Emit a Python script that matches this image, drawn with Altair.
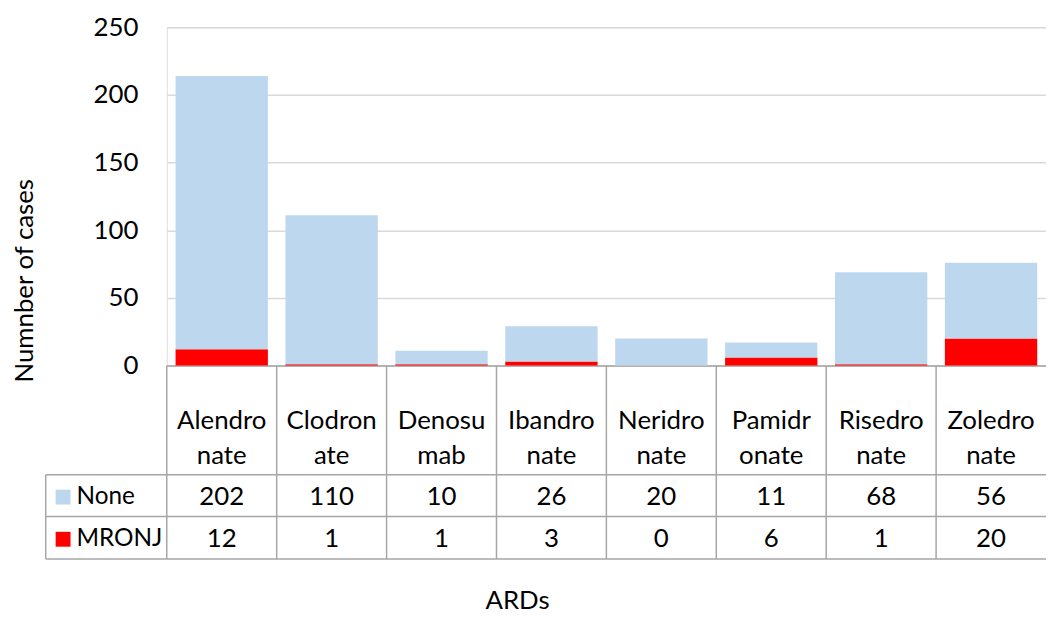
import altair as alt
import pandas as pd

# ---- data ----
categories = ["Alendronate", "Clodronate", "Denosumab", "Ibandronate",
              "Neridronate", "Pamidronate", "Risedronate", "Zoledronate"]
wrapped_labels = ["Alendro\nnate", "Clodron\nate", "Denosu\nmab", "Ibandro\nnate",
                  "Neridro\nnate", "Pamidr\nonate", "Risedro\nnate", "Zoledro\nnate"]
none_values = [202, 110, 10, 26, 20, 11, 68, 56]
mronj_values = [12, 1, 1, 3, 0, 6, 1, 20]
series_names = ["None", "MRONJ"]
y_ticks = [0, 50, 100, 150, 200, 250]

# ---- layout / style ----
W, H = 886, 341
FONT = "Lato"
FS = 26
TXT = "#000000"
GRID = "#D9D9D9"
BORDER = "#A6A6A6"
COLORS = ["#BDD7EE", "#FF0000"]

ROW_HEADER_Y = 397
ROW_LINE1 = 451
ROW_NONE_Y = 473.5
ROW_LINE2 = 493
ROW_MRONJ_Y = 516
ROW_LINE3 = 536
LEG_LEFT = -122

rows = []
for c, n, m in zip(categories, none_values, mronj_values):
    rows.append({"cat": c, "series": "MRONJ", "value": m, "ord": 0})
    rows.append({"cat": c, "series": "None", "value": n, "ord": 1})
bars_df = pd.DataFrame(rows)
table_df = pd.DataFrame({"cat": categories, "label": wrapped_labels,
                         "none": none_values, "mronj": mronj_values})

xenc = alt.X("cat:N", sort=categories,
             scale=alt.Scale(paddingInner=0, paddingOuter=0),
             axis=alt.Axis(labels=False, ticks=False, domain=True,
                           domainColor=BORDER, domainWidth=1.5, grid=False,
                           title="ARDs", titleFont=FONT, titleFontSize=FS,
                           titleFontWeight="normal", titleColor=TXT,
                           titleX=353, titleY=245, titleAlign="center",
                           titleBaseline="alphabetic"))

bars = alt.Chart(bars_df).mark_bar(width=alt.RelativeBandSize(0.84)).encode(
    x=xenc,
    y=alt.Y("value:Q", stack="zero",
            scale=alt.Scale(domain=[0, 250], nice=False),
            axis=alt.Axis(values=y_ticks, grid=True, gridColor=GRID, gridWidth=1.5,
                          ticks=False, tickSize=0, domain=False,
                          labelFont=FONT, labelFontSize=FS, labelColor=TXT,
                          labelPadding=29,
                          title="Numnber of cases", titleFont=FONT, titleFontSize=FS,
                          titleFontWeight="normal", titleColor=TXT,
                          titleX=-135, titleY=255, titleAngle=270,
                          titleAlign="center", titleBaseline="alphabetic")),
    color=alt.Color("series:N", scale=alt.Scale(domain=series_names, range=COLORS),
                    legend=None),
    order=alt.Order("ord:Q"),
)

base_t = alt.Chart(table_df)

vlines = base_t.mark_rule(color=BORDER, strokeWidth=1.5).encode(
    x=alt.X("cat:N", sort=categories, bandPosition=0),
    y=alt.value(H), y2=alt.value(ROW_LINE3),
)

def hline(y, x0):
    return alt.Chart(alt.Data(values=[{"a": 1}])).mark_rule(
        color=BORDER, strokeWidth=1.5).encode(
        x=alt.value(x0), x2=alt.value(W), y=alt.value(y))

left_border = alt.Chart(alt.Data(values=[{"a": 1}])).mark_rule(
    color=BORDER, strokeWidth=1.5).encode(
    x=alt.value(LEG_LEFT), y=alt.value(ROW_LINE1), y2=alt.value(ROW_LINE3))

header_text = base_t.mark_text(font=FONT, fontSize=FS, color=TXT, lineBreak="\n",
                               lineHeight=35, baseline="middle").encode(
    x=alt.X("cat:N", sort=categories), y=alt.value(ROW_HEADER_Y), text="label:N")

none_text = base_t.mark_text(font=FONT, fontSize=FS, color=TXT, baseline="middle").encode(
    x=alt.X("cat:N", sort=categories), y=alt.value(ROW_NONE_Y), text="none:Q")

mronj_text = base_t.mark_text(font=FONT, fontSize=FS, color=TXT, baseline="middle").encode(
    x=alt.X("cat:N", sort=categories), y=alt.value(ROW_MRONJ_Y), text="mronj:Q")

legend_layers = []
for name, col, yc in zip(series_names, COLORS, [ROW_NONE_Y, ROW_MRONJ_Y]):
    d = alt.Data(values=[{"name": name}])
    legend_layers.append(alt.Chart(d).mark_rect(color=col).encode(
        x=alt.value(LEG_LEFT + 10), x2=alt.value(LEG_LEFT + 25),
        y=alt.value(yc - 7.5), y2=alt.value(yc + 7.5)))
    legend_layers.append(alt.Chart(d).mark_text(
        font=FONT, fontSize=24.5, color=TXT, align="left", baseline="middle").encode(
        x=alt.value(LEG_LEFT + 31), y=alt.value(yc), text="name:N"))

chart = alt.layer(
    bars, vlines, hline(ROW_LINE1, LEG_LEFT), hline(ROW_LINE2, LEG_LEFT),
    hline(ROW_LINE3, LEG_LEFT), left_border,
    header_text, none_text, mronj_text, *legend_layers
).properties(
    width=W, height=H,
    autosize=alt.AutoSizeParams(type="none"),
    padding={"left": 160, "top": 17, "right": 0, "bottom": 252},
).configure_view(stroke=None).configure(background="white")

chart.save("out.html", embed_options={"renderer": "svg", "actions": False})
